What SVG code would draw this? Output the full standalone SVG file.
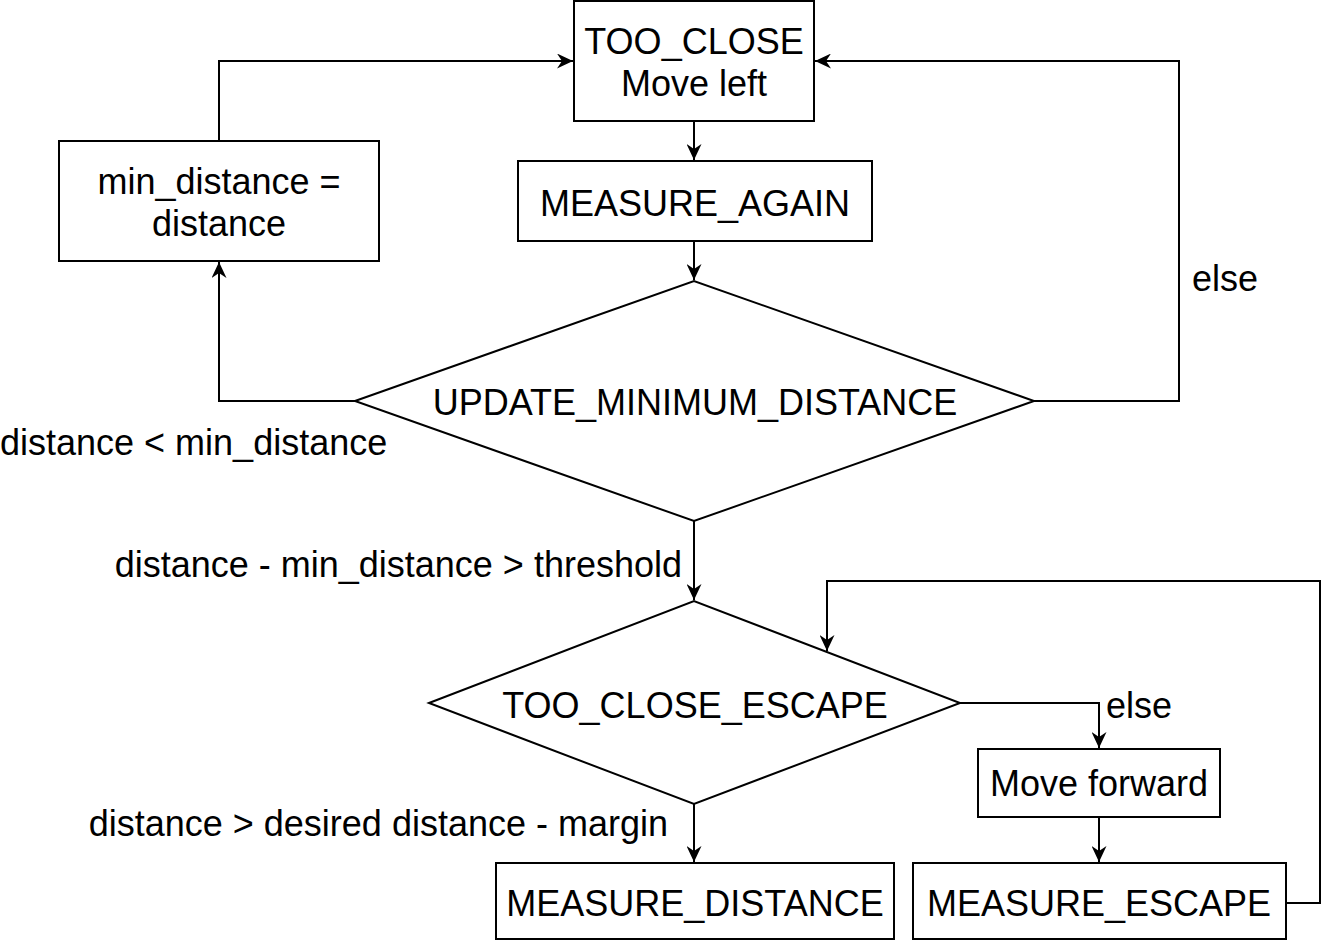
<svg xmlns="http://www.w3.org/2000/svg" width="1336" height="940" viewBox="0 0 1336 940">
<style>
.n{fill:#fff;stroke:#000;stroke-width:2}
.t{font-family:"Liberation Sans",Arial,sans-serif;font-size:36px;fill:#000}
.m{text-anchor:middle}
.e{text-anchor:end}
.c{fill:none;stroke:#000;stroke-width:2}
</style>
<defs>
<marker id="a" markerUnits="userSpaceOnUse" markerWidth="17" markerHeight="15" refX="16" refY="7.5" orient="auto" viewBox="0 0 17 15">
<path d="M0,0 L16,7.5 L0,15 L5,7.5 Z" fill="#000"/>
</marker>
</defs>
<rect width="1336" height="940" fill="#fff"/>
<g id="connectors">
<path class="c" d="M694,121 V160" marker-end="url(#a)"/>
<path class="c" d="M694,241 V280" marker-end="url(#a)"/>
<path class="c" d="M355,401 H219 V262" marker-end="url(#a)"/>
<path class="c" d="M219,141 V61 H573" marker-end="url(#a)"/>
<path class="c" d="M1034,401 H1179 V61 H815" marker-end="url(#a)"/>
<path class="c" d="M694,521 V600" marker-end="url(#a)"/>
<path class="c" d="M960,703 H1099 V748" marker-end="url(#a)"/>
<path class="c" d="M1099,817 V862" marker-end="url(#a)"/>
<path class="c" d="M1286,903 H1320 V581 H827 V651" marker-end="url(#a)"/>
<path class="c" d="M694,804 V862" marker-end="url(#a)"/>
<text class="t" x="0" y="455">distance &lt; min_distance</text>
<text class="t" x="1192" y="291">else</text>
<text class="t e" x="682" y="577">distance - min_distance &gt; threshold</text>
<text class="t" x="1106" y="718">else</text>
<text class="t e" x="668" y="836">distance &gt; desired distance - margin</text>
</g>
<g id="too_close">
<rect class="n" x="574" y="1" width="240" height="120"/>
<text class="t m" x="694" y="54">TOO_CLOSE</text>
<text class="t m" x="694" y="96">Move left</text>
</g>
<g id="measure_again">
<rect class="n" x="518" y="161" width="354" height="80"/>
<text class="t m" x="695" y="216">MEASURE_AGAIN</text>
</g>
<g id="min_distance">
<rect class="n" x="59" y="141" width="320" height="120"/>
<text class="t m" x="219" y="194">min_distance =</text>
<text class="t m" x="219" y="236">distance</text>
</g>
<g id="update_minimum_distance">
<polygon class="n" points="355,401 694,281 1034,401 694,521"/>
<text class="t m" x="695" y="415">UPDATE_MINIMUM_DISTANCE</text>
</g>
<g id="too_close_escape">
<polygon class="n" points="429,703 694,601 960,703 694,804"/>
<text class="t m" x="695" y="718">TOO_CLOSE_ESCAPE</text>
</g>
<g id="move_forward">
<rect class="n" x="978" y="749" width="242" height="68"/>
<text class="t m" x="1099" y="796">Move forward</text>
</g>
<g id="measure_distance">
<rect class="n" x="496" y="863" width="398" height="76"/>
<text class="t m" x="695" y="916">MEASURE_DISTANCE</text>
</g>
<g id="measure_escape">
<rect class="n" x="913" y="863" width="373" height="76"/>
<text class="t m" x="1099" y="916">MEASURE_ESCAPE</text>
</g>
</svg>
